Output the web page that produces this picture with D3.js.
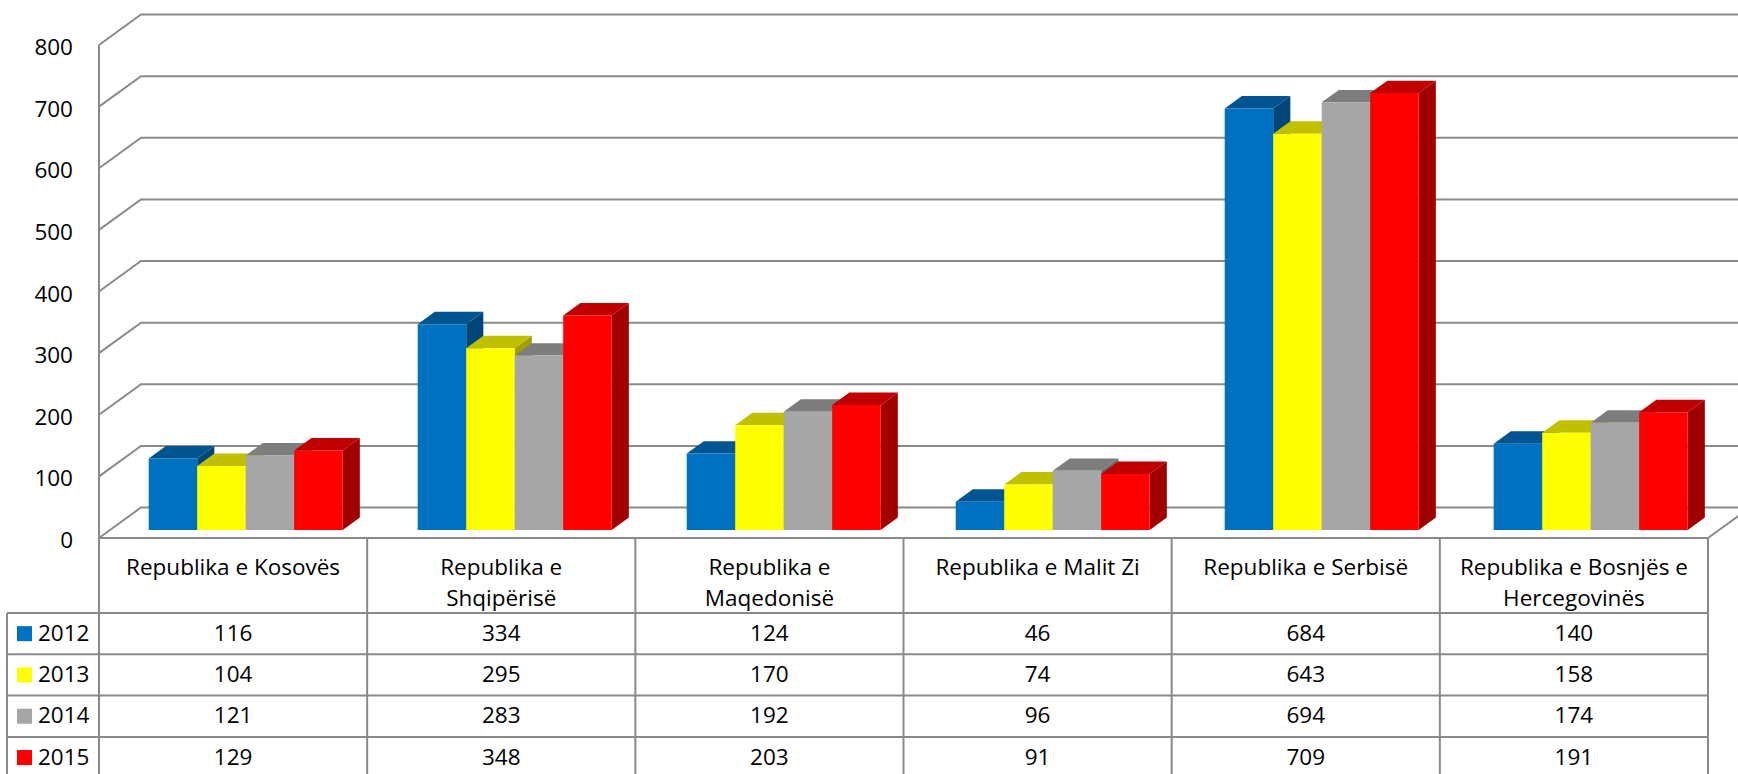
<!DOCTYPE html>
<html>
<head>
<meta charset="utf-8">
<script src="https://cdn.jsdelivr.net/npm/d3@7"></script>
<style>
  html, body { margin: 0; padding: 0; background: #fff; }
  svg { display: block; font-family: "Open Sans", "Noto Sans", sans-serif; }
</style>
</head>
<body>
<div id="chart"></div>
<script>
// Data
const categories = [
    ["Republika e Kosovës"],
    ["Republika e", "Shqipërisë"],
    ["Republika e", "Maqedonisë"],
    ["Republika e Malit Zi"],
    ["Republika e Serbisë"],
    ["Republika e Bosnjës e", "Hercegovinës"]
];
const years = ["2012", "2013", "2014", "2015"];
const values2012 = [116, 334, 124, 46, 684, 140];
const values2013 = [104, 295, 170, 74, 643, 158];
const values2014 = [121, 283, 192, 96, 694, 174];
const values2015 = [129, 348, 203, 91, 709, 191];
const yTicks = [0, 100, 200, 300, 400, 500, 600, 700, 800];
const colors = ["#0070C0", "#FFFF00", "#A6A6A6", "#FF0000"];

const series = [values2012, values2013, values2014, values2015];

const W = 1738, H = 774;
const left = 99, right = 1708;
const DX = 42, DY = 30.5;          // wall depth offset
const z0 = 0.262, z1 = 0.67;       // bar depth (front/back)
const rowH = 41.3, headerTop = 538, headerBottom = 613;
const fontSize = 22.5;

const svg = d3.select('#chart').append('svg')
    .attr('width', W).attr('height', H);

const y = d3.scaleLinear().domain([0, 800]).range([538, 45]);
const xCat = d3.scaleBand().domain(d3.range(categories.length)).range([left, right]);
const xBar = d3.scaleBand().domain(d3.range(categories.length)).range([left, left + 6 * 269]);
const xInner = d3.scaleBand().domain(years).range([38.7, 38.7 + 194]);

const P = (x, v, z) => [x + z * DX, y(v) - z * DY];
const poly = pts => 'M' + pts.map(p => p.join(',')).join('L') + 'Z';

const gridColor = '#8a8a8a';

// Walls / gridlines
const grid = svg.append('g');
yTicks.forEach(t => {
    const a = P(left, t, 0), b = P(left, t, 1), c = P(right + 60, t, 1);
    grid.append('path')
        .attr('d', `M${a}L${b}L${c}`)
        .attr('fill', 'none').attr('stroke', gridColor).attr('stroke-width', 2);
});
grid.append('line')
    .attr('x1', left).attr('x2', left)
    .attr('y1', y(800)).attr('y2', y(0))
    .attr('stroke', gridColor).attr('stroke-width', 2);
// floor right edge
const fr0 = P(right, 0, 0), fr1 = P(right, 0, 1);
grid.append('path').attr('d', `M${fr0}L${fr1}`)
    .attr('stroke', gridColor).attr('stroke-width', 2).attr('fill', 'none');

// Y labels
svg.append('g').selectAll('text').data(yTicks).join('text')
    .attr('x', 73).attr('y', d => y(d) + 4)
    .attr('text-anchor', 'end').attr('dominant-baseline', 'middle')
    .attr('font-size', fontSize).attr('fill', '#000')
    .text(d => d);

// Bars
const bars = svg.append('g');
categories.forEach((c, i) => {
    years.forEach((yr, k) => {
        const v = series[k][i];
        const x0 = xBar(i) + xInner(yr), x1 = x0 + xInner.bandwidth();
        const col = d3.color(colors[k]);
        bars.append('path')
            .attr('d', poly([P(x1, 0, z0), P(x1, 0, z1), P(x1, v, z1), P(x1, v, z0)]))
            .attr('fill', col.darker(1.3));
        bars.append('path')
            .attr('d', poly([P(x0, v, z0), P(x1, v, z0), P(x1, v, z1), P(x0, v, z1)]))
            .attr('fill', col.darker(0.8));
        bars.append('path')
            .attr('d', poly([P(x0, 0, z0), P(x1, 0, z0), P(x1, v, z0), P(x0, v, z0)]))
            .attr('fill', col);
    });
});

// Data table
const table = svg.append('g');
const lineStyle = s => s.attr('stroke', gridColor).attr('stroke-width', 2);

table.append('line').attr('x1', left).attr('x2', right)
    .attr('y1', headerTop).attr('y2', headerTop).call(lineStyle);
d3.range(years.length + 1).forEach(r => {
    const yy = headerBottom + r * rowH;
    table.append('line').attr('x1', 7).attr('x2', right)
        .attr('y1', yy).attr('y2', yy).call(lineStyle);
});
d3.range(categories.length + 1).forEach(i => {
    const xx = i < categories.length ? xCat(i) : right;
    table.append('line').attr('x1', xx).attr('x2', xx)
        .attr('y1', headerTop).attr('y2', H).call(lineStyle);
});
table.append('line').attr('x1', 7).attr('x2', 7)
    .attr('y1', headerBottom).attr('y2', H).call(lineStyle);

// Header labels
categories.forEach((lines, i) => {
    const t = table.append('text')
        .attr('text-anchor', 'middle').attr('font-size', fontSize).attr('fill', '#000');
    lines.forEach((ln, j) => {
        t.append('tspan')
            .attr('x', xCat(i) + xCat.bandwidth() / 2)
            .attr('y', 575 + j * 31)
            .text(ln);
    });
});

// Rows
years.forEach((yr, k) => {
    const cy = headerBottom + k * rowH + rowH / 2;
    table.append('rect')
        .attr('x', 17).attr('y', cy - 7.5).attr('width', 15).attr('height', 15)
        .attr('fill', colors[k]);
    table.append('text')
        .attr('x', 38).attr('y', cy + 1)
        .attr('dominant-baseline', 'middle').attr('font-size', fontSize).attr('fill', '#000')
        .text(yr);
    series[k].forEach((v, i) => {
        table.append('text')
            .attr('x', xCat(i) + xCat.bandwidth() / 2).attr('y', cy + 1)
            .attr('text-anchor', 'middle').attr('dominant-baseline', 'middle')
            .attr('font-size', fontSize).attr('fill', '#000')
            .text(v);
    });
});
</script>
</body>
</html>
